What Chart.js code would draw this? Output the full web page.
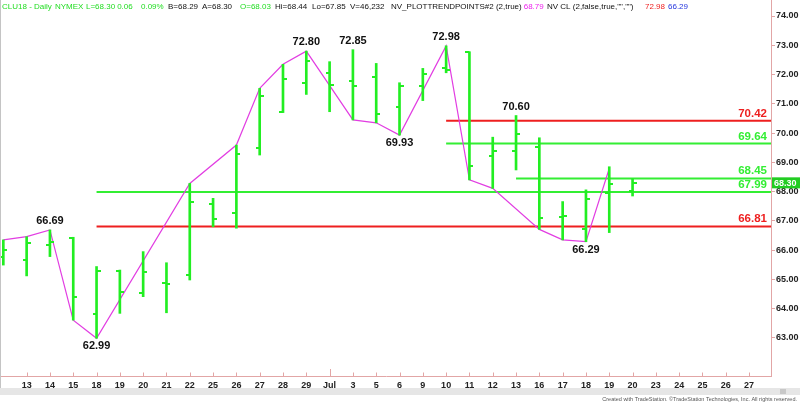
<!DOCTYPE html>
<html>
<head>
<meta charset="utf-8">
<script src="https://cdn.jsdelivr.net/npm/chart.js@4.4.1/dist/chart.umd.min.js"></script>
<style>
  html, body { margin: 0; padding: 0; background: #fff; }
  #wrap { width: 800px; height: 402px; position: relative; }
</style>
</head>
<body>
<div id="wrap"><canvas id="chartCanvas"></canvas></div>
<script>
// CLU18 daily, 12 Jun -> 20 Jul (last index is today's bar)
const dateLabels = ["12", "13", "14", "15", "18", "19", "20", "21", "22", "25", "26", "27", "28", "29",
  "Jul", "3", "5", "6", "9", "10", "11", "12", "13", "16", "17", "18", "19", "20", "23", "24", "25", "26", "27"];

const opens  = [65.76, 65.66, 66.18, 66.40, 63.81, 65.30, 64.55, 64.88, 65.15, 67.58, 67.26, 69.48, 70.73, 71.70,
  72.04, 71.79, 71.93, 70.88, 71.62, 72.21, 72.76, 69.23, 69.40, 69.53, 67.14, 66.72, 67.96, 68.03];
const highs  = [66.35, 66.46, 66.69, 66.44, 65.44, 65.32, 65.95, 65.57, 68.28, 67.77, 69.59, 71.53, 72.35, 72.80,
  72.44, 72.85, 72.38, 71.72, 72.21, 72.98, 72.78, 69.86, 70.60, 69.84, 67.66, 68.06, 68.85, 68.44];
const lows   = [65.49, 65.12, 65.78, 63.61, 62.99, 63.84, 64.41, 63.86, 64.98, 66.80, 66.75, 69.25, 70.70, 71.32,
  70.73, 70.45, 70.35, 69.93, 71.11, 72.06, 68.40, 68.11, 68.74, 66.71, 66.35, 66.29, 66.60, 67.85];
const closes = [66.00, 66.23, 66.29, 64.41, 65.30, 64.58, 65.26, 64.86, 67.66, 67.05, 69.29, 71.28, 71.84, 72.47,
  71.64, 71.62, 70.65, 71.61, 72.02, 72.16, 68.89, 69.39, 69.97, 67.09, 67.18, 67.75, 68.26, 68.30];

// NV_PLOTTRENDPOINTS swing line (null = not a vertex)
const trendPoints = [66.35, 66.46, 66.69, 63.61, 62.99, null, null, null, 68.28, null, 69.59, 71.53, 72.35, 72.80,
  null, 70.45, 70.35, 69.93, null, 72.98, 68.40, 68.11, null, 66.71, 66.35, 66.29, 68.79, null];

const pivotHighs = [2, 13, 15, 19, 22];
const pivotLows = [4, 17, 25];

const levelValues = [70.42, 69.64, 68.45, 67.99, 66.81];
const levelStarts = [19, 19, 22, 4, 4];
const levelColors = ["#ee1f1f", "#33ee33", "#33ee33", "#33ee33", "#ee1f1f"];

const priceTicks = [63, 64, 65, 66, 67, 68, 69, 70, 71, 72, 73, 74];
const lastPrice = 68.30;

const barGreen = "#22ee22";
const axisPink = "#e2a6a6";
const xMin = -0.10, xMax = 32.94;
const yMin = 61.70, yMax = 74.547;
const fontName = "'Liberation Sans', Arial, sans-serif";

const makeTick = (side) => {
  const c = document.createElement("canvas");
  c.width = 8;
  c.height = 2;
  const g = c.getContext("2d");
  g.fillStyle = barGreen;
  g.fillRect(side === "left" ? 0 : 4, 0, 4, 2);
  return c;
};

const header = [
  ["CLU18 - Daily", 2, "#22dd22"], ["NYMEX", 55, "#22dd22"], ["L=68.30", 86, "#22dd22"],
  ["0.06", 117, "#22dd22"], ["0.09%", 141, "#22dd22"], ["B=68.29", 168, "#111"], ["A=68.30", 202, "#111"],
  ["O=68.03", 240, "#22dd22"], ["Hi=68.44", 275, "#111"], ["Lo=67.85", 312, "#111"], ["V=46,232", 350, "#111"],
  ["NV_PLOTTRENDPOINTS#2 (2,true)", 391, "#111"], ["68.79", 523, "#ee22ee"],
  ["NV CL (2,false,true,\"\",\"\")", 547, "#111"], ["72.98", 645, "#ee1f1f"], ["66.29", 668, "#2233dd"],
];

const overlayPlugin = {
  id: "overlay",
  beforeDraw(chart) {
    const { ctx } = chart;
    ctx.save();
    ctx.fillStyle = "#fff";
    ctx.fillRect(0, 0, chart.width, chart.height);
    ctx.restore();
  },
  afterDatasetsDraw(chart) {
    const { ctx, chartArea, scales: { x, y } } = chart;
    ctx.save();

    // swing labels
    ctx.font = "bold 11px " + fontName;
    ctx.fillStyle = "#111";
    ctx.textAlign = "center";
    ctx.textBaseline = "middle";
    pivotHighs.forEach((i) => {
      ctx.fillText(highs[i].toFixed(2), x.getPixelForValue(i), y.getPixelForValue(highs[i]) - 9);
    });
    pivotLows.forEach((i) => {
      ctx.fillText(lows[i].toFixed(2), x.getPixelForValue(i), y.getPixelForValue(lows[i]) + 8);
    });

    // level labels
    ctx.font = "bold 11.5px " + fontName;
    ctx.textAlign = "right";
    ctx.textBaseline = "alphabetic";
    levelValues.forEach((v, k) => {
      ctx.fillStyle = levelColors[k];
      ctx.fillText(v.toFixed(2), chartArea.right - 4, y.getPixelForValue(v) - 4);
    });

    // date ticks on the axis line
    ctx.strokeStyle = axisPink;
    ctx.lineWidth = 1;
    dateLabels.forEach((lab, i) => {
      if (i === 0) return;
      const px = Math.round(x.getPixelForValue(i)) + 0.5;
      ctx.beginPath();
      ctx.moveTo(px, chartArea.bottom);
      ctx.lineTo(px, chartArea.bottom - (lab === "Jul" ? 7 : 3.5));
      ctx.stroke();
    });

    // last price box
    const py = y.getPixelForValue(lastPrice);
    ctx.fillStyle = "#22cc22";
    ctx.fillRect(chartArea.right + 1, py - 5.5, 29, 11);
    ctx.fillStyle = "#fff";
    ctx.font = "bold 9px " + fontName;
    ctx.textAlign = "left";
    ctx.textBaseline = "middle";
    ctx.fillText(lastPrice.toFixed(2), chartArea.right + 3, py + 0.5);
    ctx.restore();
  },
  afterDraw(chart) {
    const { ctx } = chart;
    ctx.save();
    // header line
    ctx.font = "8px " + fontName;
    ctx.textBaseline = "middle";
    ctx.textAlign = "left";
    let end = 0;
    header.forEach(([txt, px, col]) => {
      const sx = Math.max(px, end + 2);
      ctx.fillStyle = col;
      ctx.fillText(txt, sx, 6.5);
      end = sx + ctx.measureText(txt).width;
    });
    // left frame + scroll strip + footer
    ctx.fillStyle = "#c4c4c4";
    ctx.fillRect(0, 0, 1, 388);
    ctx.fillStyle = "#e6e6e6";
    ctx.fillRect(0, 388, 800, 7);
    ctx.fillStyle = "#c8c8c8";
    ctx.fillRect(780, 389, 6, 5);
    ctx.fillStyle = "#555";
    ctx.font = "5.5px " + fontName;
    ctx.textAlign = "right";
    ctx.textBaseline = "alphabetic";
    ctx.fillText("Created with TradeStation. \u00A9TradeStation Technologies, Inc. All rights reserved.", 797, 401);
    ctx.restore();
  },
};

const chart = new Chart(document.getElementById("chartCanvas"), {
  type: "bar",
  data: {
    datasets: [
      {
        type: "bar",
        data: highs.map((h, i) => ({ x: i, y: [lows[i], h] })),
        backgroundColor: barGreen,
        borderWidth: 0,
        barThickness: 2,
        order: 1,
      },
      {
        type: "scatter",
        data: opens.map((v, i) => ({ x: i, y: v })),
        pointStyle: makeTick("left"),
        pointRadius: 2,
        order: 1,
      },
      {
        type: "scatter",
        data: closes.map((v, i) => ({ x: i, y: v })),
        pointStyle: makeTick("right"),
        pointRadius: 2,
        order: 1,
      },
      {
        type: "line",
        data: trendPoints.map((v, i) => ({ x: i, y: v })).filter((p) => p.y !== null),
        borderColor: "#e23de2",
        borderWidth: 1.2,
        pointRadius: 0,
        tension: 0,
        order: 2,
      },
      ...levelValues.map((v, k) => ({
        type: "line",
        data: [{ x: levelStarts[k], y: v }, { x: xMax, y: v }],
        borderColor: levelColors[k],
        borderWidth: 2,
        pointRadius: 0,
        order: 3,
      })),
    ],
  },
  options: {
    responsive: true,
    maintainAspectRatio: false,
    animation: false,
    layout: { autoPadding: false, padding: { left: 1, top: 0, right: 0, bottom: 0 } },
    plugins: { legend: { display: false }, tooltip: { enabled: false } },
    scales: {
      x: {
        type: "linear",
        min: xMin,
        max: xMax,
        offset: false,
        grid: { drawOnChartArea: false, drawTicks: false },
        border: { color: axisPink },
        ticks: {
          autoSkip: false,
          maxRotation: 0,
          padding: 4,
          color: "#222",
          font: { family: fontName, size: 9, weight: "bold" },
          callback: (v) => dateLabels[v] ?? "",
        },
        afterBuildTicks: (s) => {
          s.ticks = dateLabels.map((_, i) => ({ value: i })).slice(1);
        },
        afterFit: (s) => {
          s.height = 26;
          s.paddingLeft = 0;
          s.paddingRight = 0;
        },
      },
      y: {
        position: "right",
        min: yMin,
        max: yMax,
        grid: { drawOnChartArea: false, drawTicks: true, tickLength: 4, color: axisPink },
        border: { color: axisPink },
        ticks: {
          padding: 1,
          color: "#222",
          font: { family: fontName, size: 9, weight: "bold" },
          callback: (v) => Number(v).toFixed(2),
        },
        afterBuildTicks: (s) => {
          s.ticks = priceTicks.map((v) => ({ value: v }));
        },
        afterFit: (s) => {
          s.width = 29;
          s.paddingTop = 0;
          s.paddingBottom = 0;
        },
      },
    },
  },
  plugins: [overlayPlugin],
});
</script>
</body>
</html>
